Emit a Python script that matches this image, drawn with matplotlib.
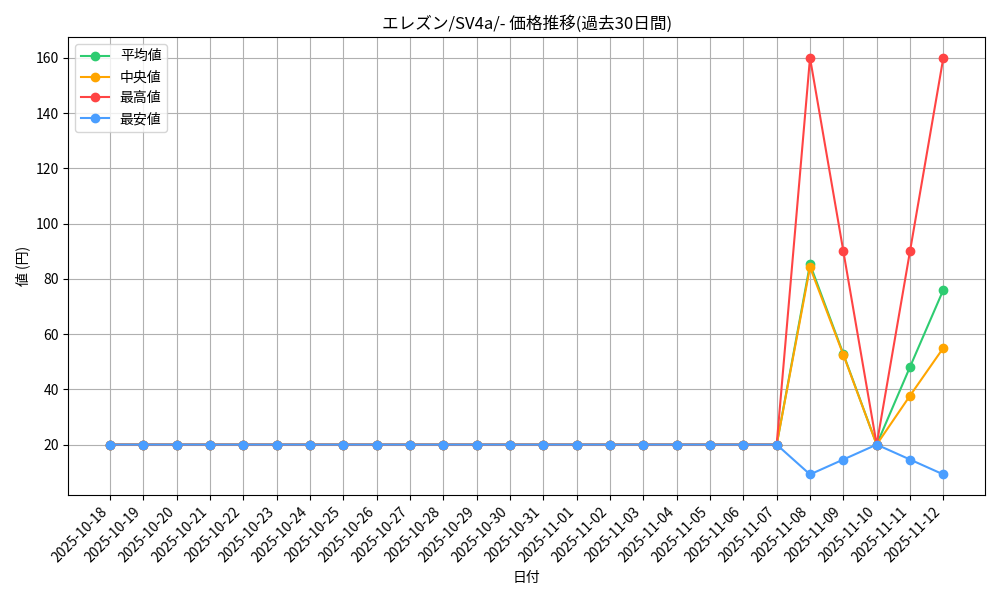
import matplotlib
matplotlib.use('Agg')
import matplotlib.pyplot as plt
import pandas as pd

plt.rcParams['font.family'] = ['Noto Sans CJK JP', 'DejaVu Sans']

dates = [d.strftime('%Y-%m-%d') for d in pd.date_range('2025-10-18', '2025-11-12')]
n_flat = 21
mean_v = [20]*n_flat + [85.3, 52.8, 20, 48.1, 76]
median_v = [20]*n_flat + [84.2, 52.5, 20, 37.7, 55]
max_v = [20]*n_flat + [160, 90, 20, 90, 160]
min_v = [20]*n_flat + [9.2, 14.6, 20, 14.6, 9.2]

fig, ax = plt.subplots(figsize=(10, 6), dpi=100)
x = range(len(dates))
ax.plot(x, mean_v, marker='o', color='#2ecc71', label='平均値')
ax.plot(x, median_v, marker='o', color='#ffa500', label='中央値')
ax.plot(x, max_v, marker='o', color='#ff4444', label='最高値')
ax.plot(x, min_v, marker='o', color='#4a9eff', label='最安値')
ax.set_xticks(list(x))
ax.set_xticklabels(dates, rotation=45, ha='right')
ax.set_title('エレズン/SV4a/- 価格推移(過去30日間)')
ax.set_xlabel('日付')
ax.set_ylabel('値 (円)')
ax.grid(True)
ax.legend(loc='upper left')
fig.tight_layout()
fig.savefig('out.png')
